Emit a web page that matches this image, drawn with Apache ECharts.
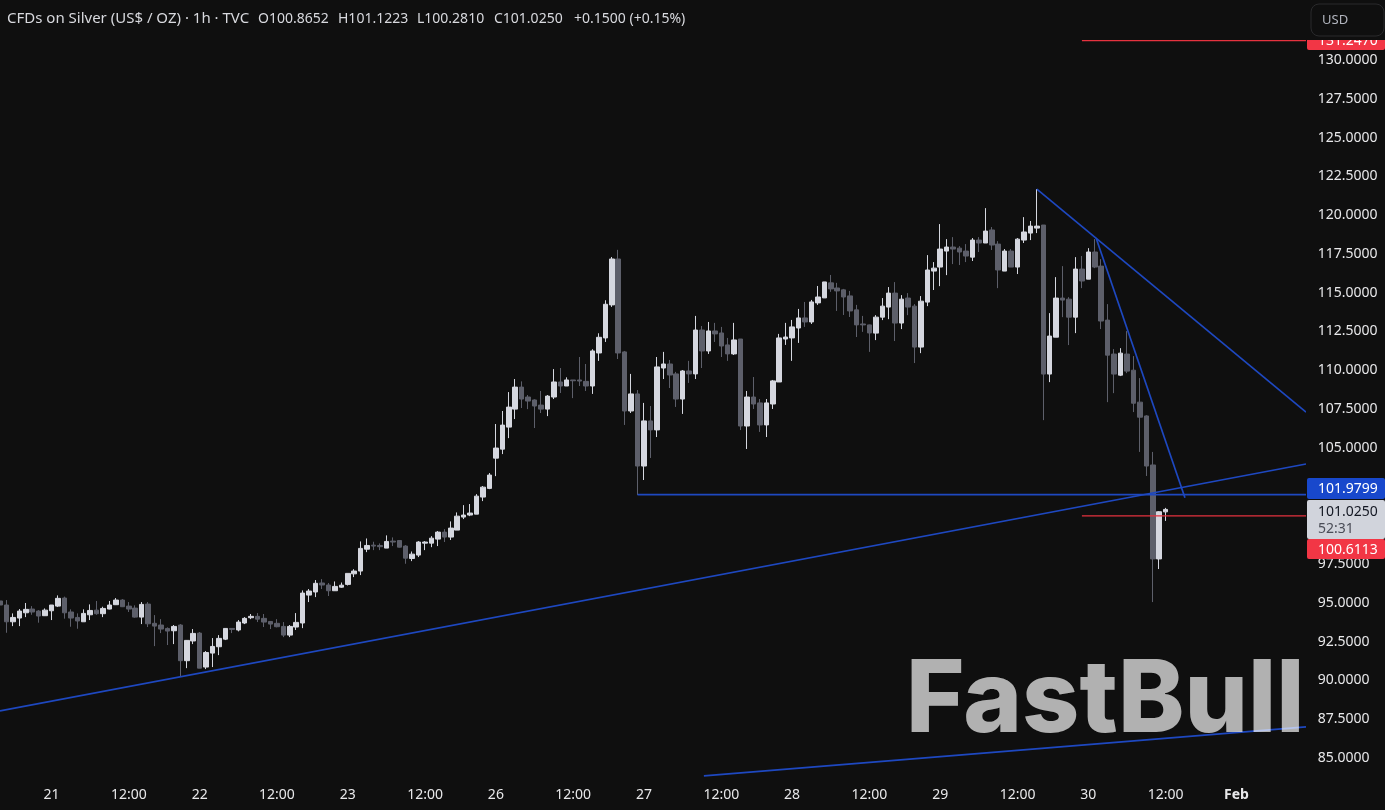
<!DOCTYPE html>
<html>
<head>
    <meta charset="UTF-8">
    <title>CFDs on Silver</title>
    <script src="https://cdn.jsdelivr.net/npm/echarts@6/dist/echarts.min.js"></script>
    <style>
        html, body { margin: 0; padding: 0; background: #0f0f0f; }
        #main { width: 1385px; height: 810px; }
    </style>
</head>
<body>
<div id="main"></div>
<script type="text/javascript">
// hourly bars, 23 per trading day
var opens = [95.12,94.86,93.78,94.02,94.36,94.60,94.47,94.17,94.49,94.79,95.31,94.41,94.06,93.78,94.23,94.53,94.30,94.60,94.88,95.18,94.79,94.66,94.08,94.92,93.68,93.57,93.35,93.20,93.57,91.27,92.54,93.05,90.86,91.76,92.17,92.66,93.35,93.25,93.70,94.04,94.13,94.00,93.80,93.68,93.48,92.92,93.44,93.70,95.50,95.70,96.28,96.15,
    95.78,96.01,96.19,96.87,97.05,98.46,98.72,98.70,98.53,98.98,99.02,98.66,97.86,98.08,98.85,98.85,99.11,99.56,99.24,99.69,100.53,100.66,100.72,101.82,102.38,104.33,104.91,106.33,107.49,108.91,108.27,108.08,107.75,107.49,108.27,109.24,108.98,109.37,109.37,109.28,
    108.98,111.11,112.08,114.21,117.17,111.18,107.37,108.47,103.82,106.73,106.15,110.14,110.40,109.76,108.14,109.95,109.76,112.59,111.24,112.53,112.40,111.63,111.05,112.01,106.40,108.27,107.89,106.47,107.82,109.24,112.01,112.08,112.72,113.37,113.11,114.34,114.66,115.63,115.30,115.18,114.79,113.89,112.98,112.92,
    112.39,113.42,114.07,114.97,113.04,114.65,114.13,111.49,114.39,116.39,116.65,117.68,117.94,117.87,117.68,117.29,118.39,118.20,119.04,118.13,116.39,117.68,116.65,118.39,118.84,119.16,119.36,109.75,112.13,114.65,114.58,113.42,116.52,115.87,117.62,116.71,113.23,111.04,109.68,111.04,110.00,107.94,107.05,103.89,97.83,100.8652];
var highs = [95.83,95.18,94.32,94.60,94.99,94.79,94.53,94.64,94.86,95.48,95.40,94.58,94.32,94.58,94.90,95.12,94.75,95.12,95.31,95.24,95.05,94.84,95.05,95.05,94.21,93.95,93.42,93.57,93.63,92.60,93.31,93.12,91.89,92.73,92.92,93.35,93.35,93.89,94.08,94.28,94.34,94.28,93.83,93.95,93.76,93.57,94.34,95.80,95.89,96.47,96.53,96.28,
    96.38,96.31,96.90,97.17,98.96,99.15,98.94,98.83,99.35,99.22,99.05,98.72,98.31,98.98,98.98,99.30,99.63,99.75,100.25,100.83,101.30,101.37,102.01,102.53,103.37,106.53,107.37,108.59,109.43,109.28,108.40,108.12,108.66,108.40,110.07,110.14,109.54,109.37,110.85,110.40,
    111.35,112.38,114.51,117.30,117.76,111.24,109.76,108.72,107.89,107.69,110.85,111.18,110.66,109.89,110.01,110.60,113.50,112.85,113.11,113.05,112.79,112.08,113.05,112.01,108.66,109.56,108.14,108.14,109.37,112.34,113.05,113.24,113.95,114.40,114.53,115.43,115.69,116.14,115.63,115.24,115.11,114.21,113.50,112.94,
    113.55,114.65,115.36,115.68,114.84,114.97,114.26,114.78,117.42,116.97,119.42,118.45,118.58,118.00,118.13,118.52,118.58,120.45,119.23,118.32,117.81,117.81,118.52,119.87,119.62,121.68,119.36,113.68,116.00,116.71,114.71,117.29,117.36,117.87,118.45,117.16,114.26,111.36,111.42,112.52,110.91,109.49,107.10,104.73,100.92,101.1223];
var lows = [94.32,93.07,93.50,93.50,94.08,94.23,93.72,94.15,93.89,94.73,93.98,93.46,93.33,93.78,93.89,94.23,94.08,94.58,94.86,94.73,94.41,94.04,93.63,93.44,92.21,93.05,92.28,92.34,90.28,90.79,92.34,90.79,90.73,90.86,91.63,92.60,93.05,93.16,93.63,93.95,93.76,93.44,93.31,93.42,92.79,92.79,93.25,93.37,95.05,95.37,95.89,95.44,
    95.78,95.97,96.12,96.66,96.79,98.27,98.40,98.40,98.53,98.66,98.57,97.52,97.69,97.95,98.40,98.59,98.66,98.92,99.05,99.69,100.40,100.59,100.72,101.56,102.33,103.17,104.59,105.62,106.85,107.56,107.49,106.27,107.24,107.04,108.14,108.53,108.98,108.20,108.98,108.66,
    108.47,110.60,111.82,114.08,110.72,106.47,107.24,101.95,102.92,104.34,105.69,109.43,108.85,107.63,107.18,109.18,109.43,110.14,111.05,111.82,110.85,110.60,110.98,106.14,104.92,107.50,106.02,105.69,107.50,109.24,111.63,110.60,111.76,112.79,112.98,114.21,114.66,115.05,113.82,113.56,113.43,112.14,112.47,111.18,
    111.94,113.23,113.29,111.88,112.65,113.55,110.46,111.10,114.13,115.17,115.42,116.13,116.84,116.78,116.97,117.04,117.62,118.20,117.75,115.29,116.39,116.65,116.20,118.20,118.39,118.84,106.78,109.23,112.13,113.42,111.62,112.39,115.29,115.87,116.58,112.65,107.94,108.52,109.62,109.81,107.30,104.73,103.18,95.05,97.18,100.2810];
var closes = [94.86,93.78,94.06,94.47,94.58,94.41,94.15,94.53,94.86,95.29,94.36,94.02,93.83,94.32,94.51,94.30,94.64,94.86,95.18,94.75,94.60,94.08,94.90,93.65,93.50,93.31,93.18,93.48,91.27,92.58,93.03,90.79,91.80,92.19,92.71,93.35,93.29,93.76,94.00,94.13,93.95,93.76,93.63,93.46,92.92,93.48,93.74,95.63,95.76,96.26,96.15,95.78,
    96.06,96.14,96.90,97.05,98.51,98.70,98.66,98.62,98.96,98.92,98.59,97.88,98.14,98.92,98.92,99.17,99.56,99.24,99.82,100.59,100.66,100.79,101.88,102.46,103.24,104.98,106.46,107.62,108.91,108.14,108.01,107.69,107.49,108.33,109.24,108.98,109.37,109.32,109.30,108.98,
    111.24,112.12,114.25,117.17,111.11,107.37,108.47,103.82,106.73,106.15,110.21,110.40,109.69,108.14,109.95,109.76,112.59,111.24,112.53,112.34,111.56,111.05,111.95,106.40,108.27,107.82,106.47,107.89,109.31,112.08,112.14,112.79,113.37,113.11,114.40,114.72,115.69,115.24,115.11,114.72,113.82,112.92,112.92,112.40,
    113.42,114.13,114.97,113.04,114.58,114.07,111.49,114.45,116.46,116.58,117.81,117.94,117.81,117.62,117.36,118.39,118.20,118.97,118.07,116.46,117.68,116.65,118.45,118.91,119.29,119.29,109.75,112.20,114.65,114.52,113.42,116.52,115.75,117.62,116.65,113.17,110.97,109.75,111.10,109.94,107.87,106.97,103.82,97.83,100.875,101.0250];

// x axis: bar index where each label sits
var xTickIndex = [8,20,31,43,54,66,77,89,100,112,123,135,146,158,169,181,192];
var xTickLabels = ['21','12:00','22','12:00','23','12:00','26','12:00','27','12:00','28','12:00','29','12:00','30','12:00','Feb'];
var yTickValues = [85,87.5,90,92.5,95,97.5,100,102.5,105,107.5,110,112.5,115,117.5,120,122.5,125,127.5,130];

// drawn lines: [bar index, price]
var supportLine = [[0,88.03],[202.8,103.95]];
var breakLine = [[99,101.9799],[203,101.9799]];
var upperTrend = [[161,121.68],[202.8,107.30]];
var steepTrend = [[170.2,118.52],[184,101.78]];
var lowerChannel = [[109.3,83.84],[202.8,87.0]];
var targetHigh = [[168,131.2470],[203,131.2470]];
var targetLow = [[168,100.6113],[203,100.6113]];

var BG = '#0f0f0f';
var BLUE = '#1e48c0';
var RED = '#e5323f';
var LABEL_FONT = '"Noto Sans", sans-serif';

var categories = [];
for (var i = 0; i < 205; i++) {
    var p = xTickIndex.indexOf(i);
    categories.push(p >= 0 ? xTickLabels[p] : '');
}
var candleData = [];
for (var a = 0; a < opens.length; a++) {
    candleData.push([opens[a], closes[a], lows[a], highs[a]]);
}

function trend(data, color, width) {
    return {
        type: 'line',
        xAxisIndex: 1,
        yAxisIndex: 0,
        data: data,
        showSymbol: false,
        silent: true,
        animation: false,
        z: 3,
        lineStyle: { color: color, width: width }
    };
}
function tag(y, h, color) {
    return { type: 'rect', z: 10, shape: { x: 1307, y: y, width: 78, height: h, r: 2 }, style: { fill: color } };
}
function txt(x, y, text, color, size) {
    return { type: 'text', z: 10, style: { x: x, y: y, text: text, fill: color, font: (size || 14) + 'px ' + LABEL_FONT, textVerticalAlign: 'middle' } };
}

var myChart = echarts.init(document.getElementById('main'));
var option = {
    backgroundColor: BG,
    animation: false,
    grid: { left: 0, top: 0, width: 1313.76, height: 780, containLabel: false },
    xAxis: [{
        type: 'category',
        data: categories,
        boundaryGap: false,
        axisLine: { show: false },
        axisTick: { show: false },
        splitLine: { show: false },
        axisLabel: {
            color: '#e8e8ea',
            fontFamily: LABEL_FONT,
            fontSize: 14,
            margin: 8,
            interval: function (index, value) { return value !== ''; },
            formatter: function (value) { return value === 'Feb' ? '{b|Feb}' : value; },
            rich: { b: { color: '#e8e8ea', fontFamily: LABEL_FONT, fontSize: 14, fontWeight: 'bold' } }
        }
    }, {
        type: 'value',
        min: 0,
        max: 204,
        show: false
    }],
    yAxis: [{
        type: 'value',
        position: 'right',
        min: 83.578,
        max: 133.868,
        z: 5,
        axisLine: { show: false },
        axisTick: { show: false },
        splitLine: { show: false },
        axisLabel: {
            customValues: yTickValues,
            color: '#e8e8ea',
            fontFamily: LABEL_FONT,
            fontSize: 14,
            margin: 4,
            formatter: function (value) { return value.toFixed(4); }
        }
    }],
    series: [{
        type: 'candlestick',
        xAxisIndex: 0,
        yAxisIndex: 0,
        data: candleData,
        barWidth: 5,
        z: 2,
        itemStyle: { color: '#d5d7df', color0: '#5d5f6a', borderColor: '#d5d7df', borderColor0: '#5d5f6a', borderWidth: 1 }
    },
    trend(supportLine, BLUE, 1.7),
    trend(breakLine, BLUE, 1.7),
    trend(upperTrend, BLUE, 1.7),
    trend(steepTrend, BLUE, 1.7),
    trend(lowerChannel, BLUE, 1.7),
    trend(targetHigh, RED, 1.2),
    trend(targetLow, RED, 1.2)],
    graphic: [
        // price scale background, sits over the lines but under the labels
        { type: 'rect', z: 4, shape: { x: 1306, y: 0, width: 79, height: 780 }, style: { fill: BG } },
        { type: 'text', z: 6, style: { x: 906, y: 702, text: 'FastBull', fill: '#ffffff', opacity: 0.68, font: '800 100px Inter, sans-serif', textVerticalAlign: 'middle' } },

        tag(31, 19, '#f23645'),
        txt(1318, 41, targetHigh[0][1].toFixed(4), '#ffffff'),
        { type: 'rect', z: 11, shape: { x: 1306, y: 0, width: 79, height: 40 }, style: { fill: BG } },
        { type: 'rect', z: 12, shape: { x: 1311, y: 4, width: 73, height: 32, r: 8 }, style: { fill: BG, stroke: '#2a2a2c', lineWidth: 1 } },
        { type: 'text', z: 13, style: { x: 1322, y: 20, text: 'USD', fill: '#b2b5be', font: '13px ' + LABEL_FONT, textVerticalAlign: 'middle' } },

        tag(478, 21, '#1848cc'),
        txt(1318, 489.5, breakLine[0][1].toFixed(4), '#ffffff'),
        tag(500, 39, '#d1d4dc'),
        txt(1318, 512, closes[closes.length - 1].toFixed(4), '#131722'),
        txt(1318, 529.5, '52:31', '#4a4d57'),
        tag(539, 20, '#f23645'),
        txt(1318, 550, targetLow[0][1].toFixed(4), '#ffffff'),

        txt(7, 19, 'CFDs on Silver (US$ / OZ) · 1h · TVC', '#d8d9de', 15),
        txt(258, 19, 'O100.8652', '#d8d9de', 14),
        txt(338, 19, 'H101.1223', '#d8d9de', 14),
        txt(417, 19, 'L100.2810', '#d8d9de', 14),
        txt(494, 19, 'C101.0250', '#d8d9de', 14),
        txt(574, 19, '+0.1500 (+0.15%)', '#d8d9de', 14)
    ]
};
myChart.setOption(option);
</script>
</body>
</html>
